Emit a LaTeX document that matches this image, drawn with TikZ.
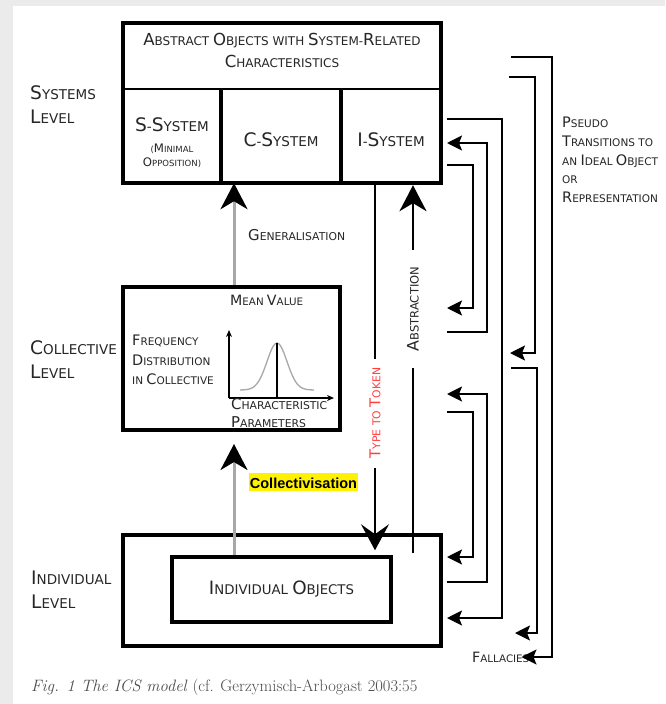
\documentclass[tikz,border=0pt]{standalone}
\usepackage{fontspec}
\usetikzlibrary{arrows.meta}
\newfontfamily\lblfont{DejaVu Sans}
\newfontfamily\hlfont{Liberation Sans}
\newcommand{\capl}[1]{\scalebox{1.38}{#1}}
\newcommand{\fsz}[2]{\fontsize{#1}{#2}\selectfont}
\definecolor{bggray}{HTML}{EBEBEB}
\definecolor{linkgray}{HTML}{A8A8A8}
\definecolor{ttred}{HTML}{FF4040}
\definecolor{txtgray}{HTML}{262626}
\tikzset{
  cell/.style={inner sep=0pt},
  lbl/.style={font=\lblfont, text=txtgray, inner sep=0pt},
  boxline/.style={line width=4pt},
  link/.style={line width=1.8pt},
  tolevel/.style={link, -{Stealth[length=15pt,width=15pt,inset=3pt]}},
  bigtip/.style={-{Stealth[length=26pt,width=27pt,inset=8pt,color=black]}},
  upgen/.style={line width=3pt, linkgray, bigtip},
}
\begin{document}
\begin{tikzpicture}[x=1pt,y=-1pt]
\useasboundingbox (0,0) rectangle (665,704);
\fill[bggray] (0,0) rectangle (665,704);
\fill[white] (13,6) rectangle (665,704);

% systems level
\node[cell, minimum width=318pt, minimum height=66pt] (abs) at (282,56) {};
\node[cell, minimum width=98pt, minimum height=94pt] (ssys) at (172,136) {};
\node[cell, minimum width=120pt, minimum height=94pt] (csys) at (281,136) {};
\node[cell, minimum width=100pt, minimum height=94pt] (isys) at (391,136) {};
\draw[boxline] (abs.north west) rectangle (isys.south east);
\draw[line width=2.5pt] (abs.south west) -- (abs.south east);
\draw[boxline] (ssys.north east) -- (ssys.south east);
\draw[boxline] (csys.north east) -- (csys.south east);
\node[lbl, align=center, font=\lblfont\fsz{12}{22}] (abstxt) at (282,50)
  {\capl{A}BSTRACT \capl{O}BJECTS WITH \capl{S}YSTEM-\capl{R}ELATED\\\capl{C}HARACTERISTICS};
\node[lbl, font=\lblfont\fsz{13.5}{15}] (stxt) at (172,125) {\capl{S}-\capl{S}YSTEM};
\node[lbl, align=center, font=\lblfont\fsz{8.5}{14}] (sopp) at (172,156) {(\capl{M}INIMAL\\\capl{O}PPOSITION)};
\node[lbl, font=\lblfont\fsz{13.5}{15}] (ctxt) at (281,140) {\capl{C}-\capl{S}YSTEM};
\node[lbl, font=\lblfont\fsz{13.5}{15}] (itxt) at (391,140) {\capl{I}-\capl{S}YSTEM};
\node[lbl, anchor=west, align=left, font=\lblfont\fsz{13.5}{24}] (syslvl) at (30,105) {\capl{S}YSTEMS\\\capl{L}EVEL};

% collective level
\node[draw, boxline, minimum width=217pt, minimum height=143pt, inner sep=0pt] (coll) at (231.5,358.5) {};
\node[lbl, anchor=west, align=left, font=\lblfont\fsz{13.5}{24}] (colllvl) at (30,360) {\capl{C}OLLECTIVE\\\capl{L}EVEL};
\node[lbl, anchor=west, font=\lblfont\fsz{10.3}{12}] (meanv) at (230,300) {\capl{M}EAN \capl{V}ALUE};
\node[lbl, anchor=west, align=left, font=\lblfont\fsz{10.5}{19.5}] (freq) at (132,360)
  {\capl{F}REQUENCY\\\capl{D}ISTRIBUTION\\IN \capl{C}OLLECTIVE};
\draw[line width=1.5pt, -{Stealth[length=7pt,width=6pt]}] (229,398) -- (229,330);
\draw[line width=1.5pt, -{Stealth[length=7pt,width=6pt]}] (229,398) -- (334,398);
\draw[linkgray, line width=1.3pt, domain=240:314, samples=60, smooth] plot (\x,{390-47*exp(-((\x-277)^2)/200)});
\draw[line width=1.5pt] (277,343) -- (277,398);
\node[lbl, anchor=west, align=left, font=\lblfont\fsz{10.8}{18}] (charp) at (231,413) {\capl{C}HARACTERISTIC\\\capl{P}ARAMETERS};

% individual level
\node[draw, boxline, minimum width=318pt, minimum height=111pt] (indlev) at (282,590.5) {};
\node[draw, line width=3.5pt, minimum width=219pt, minimum height=65pt, lbl, font=\lblfont\fsz{13.3}{15}] (indobj) at (281.5,589.5)
  {\capl{I}NDIVIDUAL \capl{O}BJECTS};
\node[lbl, anchor=west, align=left, font=\lblfont\fsz{13.5}{24}] (indlvl) at (31,590) {\capl{I}NDIVIDUAL\\\capl{L}EVEL};

% generalisation / collectivisation
\coordinate (gx) at (234,0);
\draw[upgen] (coll.north -| gx) -- (csys.south -| gx);
\node[lbl, anchor=west, font=\lblfont\fsz{10.8}{12}] (gentxt) at (248,235) {\capl{G}ENERALISATION};
\draw[upgen, shorten >=12pt] (indobj.north -| gx) -- (coll.south -| gx);
\node[fill=yellow, font=\hlfont\bfseries\fsz{14.5}{15}, text height=15pt, text depth=2pt, inner xsep=0.5pt, inner ysep=0.5pt] (colltxt) at (303.5,482) {Collectivisation};

% type to token / abstraction
\node[lbl, text=ttred, rotate=90, font=\lblfont\fsz{10.8}{14}, inner xsep=9pt] (tttxt) at (375,413) {\capl{T}YPE TO \capl{T}OKEN};
\draw[link] (isys.south -| tttxt) -- (tttxt.east);
\draw[link, -{Stealth[length=26pt,width=28pt,inset=10pt]}, shorten >=5pt] (tttxt.west) -- (indobj.north -| tttxt);
\node[lbl, rotate=90, font=\lblfont\fsz{11.5}{14}, inner xsep=17pt] (abstr) at (413,309) {\capl{A}BSTRACTION};
\coordinate (absfoot) at (413,553);
\draw[link] (absfoot) -- (abstr.west);
\draw[link, bigtip, shorten >=2pt] (abstr.east) -- (isys.south -| abstr);

% transitions between levels
\coordinate (sA) at (447,119);
\coordinate (sB) at (447,143);
\coordinate (sC) at (447,165);
\coordinate (cA) at (447,308);
\coordinate (cB) at (447,332);
\coordinate (cC) at (447,394);
\coordinate (cD) at (447,412);
\coordinate (iA) at (447,557);
\coordinate (iB) at (447,582);
\coordinate (iC) at (447,618);
\draw[tolevel] (sA) -- ++(55,0) |- (iC);
\draw[tolevel] (cB) -- ++(40,0) |- (sB);
\draw[tolevel] (sC) -- ++(26,0) |- (cA);
\draw[tolevel] (iB) -- ++(40,0) |- (cC);
\draw[tolevel] (cD) -- ++(26,0) |- (iA);

% pseudo transitions
\coordinate (pA) at (511,57);
\coordinate (pB) at (509,77);
\coordinate (pC) at (510,353);
\coordinate (pD) at (511,368);
\coordinate (pE) at (515,633);
\node[lbl, anchor=west, font=\lblfont\fsz{10.3}{12}] (fall) at (472,657) {\capl{F}ALLACIES};
\draw[tolevel, shorten >=-8pt] (pA) -- ++(41,0) |- (fall.east);
\draw[tolevel] (pB) -- ++(26,0) |- (pC);
\draw[tolevel] (pD) -- ++(26,0) |- (pE);
\node[lbl, anchor=north west, align=left, font=\lblfont\fsz{10.5}{18.7}] (pseudotxt) at (562,117)
  {\capl{P}SEUDO\\\capl{T}RANSITIONS TO\\AN \capl{I}DEAL \capl{O}BJECT\\OR\\\capl{R}EPRESENTATION};

% caption
\node[anchor=west, text=black!70, font=\fsz{16.5}{18}, inner sep=0pt] (caption) at (31,687)
  {\textit{Fig. 1 The ICS model} (cf. Gerzymisch-Arbogast 2003:55};
\end{tikzpicture}
\end{document}
